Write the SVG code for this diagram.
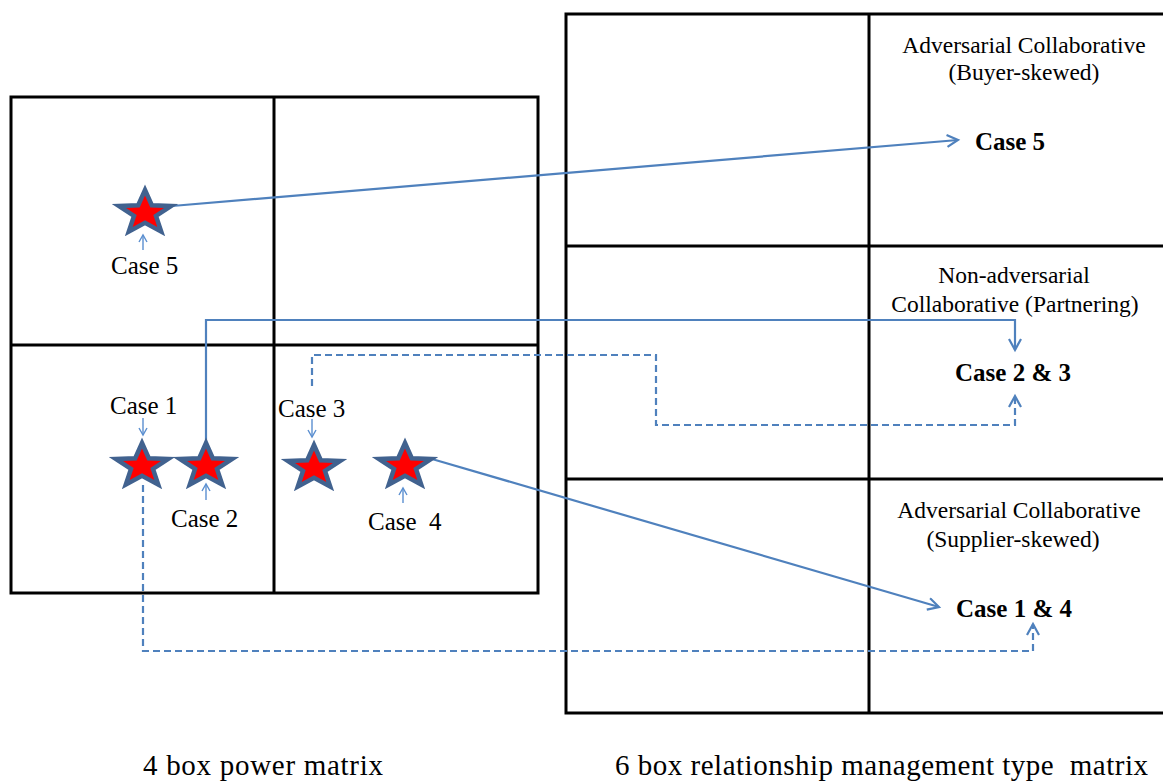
<svg xmlns="http://www.w3.org/2000/svg" xmlns:xlink="http://www.w3.org/1999/xlink" width="1163" height="781" viewBox="0 0 1163 781">
  <style>
    .grid { fill: none; stroke: #000; stroke-width: 3; }
    .star { fill: #ff0000; stroke: #41628f; stroke-width: 4.5; stroke-linejoin: miter; }
    .link { fill: none; stroke: #4f81bd; stroke-width: 2.2; }
    .dash { stroke-dasharray: 7 4; }
    .tick { fill: none; stroke: #5b8fd0; stroke-width: 1.4; }
    .lbl { font-family: "Liberation Serif", "Times New Roman", serif; font-size: 25px; fill: #000; }
    .cat { font-family: "Liberation Serif", "Times New Roman", serif; font-size: 23.5px; fill: #000; text-anchor: middle; }
    .case { font-family: "Liberation Serif", "Times New Roman", serif; font-size: 25px; font-weight: bold; fill: #000; text-anchor: middle; }
    .cap { font-family: "Liberation Serif", "Times New Roman", serif; font-size: 29px; fill: #000; }
  </style>
  <defs>
    <polygon id="star5" points="0,-23 6.8,-7.8 26.2,-7.1 11,3 16.2,18.6 0,9.7 -16.2,18.6 -11,3 -26.2,-7.1 -6.8,-7.8"/>
    <marker id="arr" markerUnits="userSpaceOnUse" markerWidth="16" markerHeight="16" refX="12" refY="7" orient="auto">
      <path d="M1,1 L12,7 L1,13" fill="none" stroke="#4f81bd" stroke-width="2.2"/>
    </marker>
    <marker id="tickArr" markerUnits="userSpaceOnUse" markerWidth="12" markerHeight="12" refX="8" refY="5" orient="auto">
      <path d="M1,1 L8,5 L1,9" fill="none" stroke="#5b8fd0" stroke-width="1.4"/>
    </marker>
  </defs>

  <!-- 4 box power matrix -->
  <g id="power-matrix">
    <rect class="grid" x="11" y="97" width="527" height="496"/>
    <line class="grid" x1="274" y1="97" x2="274" y2="593"/>
    <line class="grid" x1="11" y1="345" x2="538" y2="345"/>
  </g>

  <!-- 6 box relationship management type matrix -->
  <g id="relationship-matrix">
    <polyline class="grid" points="1170,14 566,14 566,713 1170,713"/>
    <line class="grid" x1="869" y1="14" x2="869" y2="713"/>
    <line class="grid" x1="566" y1="246" x2="1170" y2="246"/>
    <line class="grid" x1="566" y1="479" x2="1170" y2="479"/>
  </g>

  <!-- connectors -->
  <g id="connectors">
    <line class="link" x1="172" y1="206" x2="958" y2="140" marker-end="url(#arr)"/>
    <polyline class="link" points="206,443 206,320 1015,320 1015,350" marker-end="url(#arr)"/>
    <polyline class="link dash" points="312,386 312,355 656,355 656,425 1015,425 1015,396" marker-end="url(#arr)"/>
    <line class="link" x1="432" y1="459" x2="939" y2="607" marker-end="url(#arr)"/>
    <polyline class="link dash" points="143,485 143,651 1033,651 1033,624" marker-end="url(#arr)"/>
  </g>

  <!-- cases in the power matrix -->
  <g id="case5">
    <use xlink:href="#star5" class="star" x="145" y="213"/>
    <line class="tick" x1="143" y1="250" x2="143" y2="235" marker-end="url(#tickArr)"/>
    <text class="lbl" x="111" y="274">Case 5</text>
  </g>
  <g id="case1">
    <use xlink:href="#star5" class="star" x="142" y="466"/>
    <line class="tick" x1="143" y1="418" x2="143" y2="435" marker-end="url(#tickArr)"/>
    <text class="lbl" x="110" y="414">Case 1</text>
  </g>
  <g id="case2">
    <use xlink:href="#star5" class="star" x="206" y="466"/>
    <line class="tick" x1="206" y1="500" x2="206" y2="484" marker-end="url(#tickArr)"/>
    <text class="lbl" x="171" y="527">Case 2</text>
  </g>
  <g id="case3">
    <use xlink:href="#star5" class="star" x="314" y="468"/>
    <line class="tick" x1="312" y1="419" x2="312" y2="437" marker-end="url(#tickArr)"/>
    <text class="lbl" x="278" y="417">Case 3</text>
  </g>
  <g id="case4">
    <use xlink:href="#star5" class="star" x="405" y="466"/>
    <line class="tick" x1="403" y1="503" x2="403" y2="488" marker-end="url(#tickArr)"/>
    <text class="lbl" x="368" y="530" xml:space="preserve">Case  4</text>
  </g>

  <!-- relationship types -->
  <g id="buyer-skewed">
    <text class="cat" x="1024" y="53">Adversarial Collaborative</text>
    <text class="cat" x="1024" y="80">(Buyer-skewed)</text>
    <text class="case" x="1010" y="150">Case 5</text>
  </g>
  <g id="partnering">
    <text class="cat" x="1014" y="283">Non-adversarial</text>
    <text class="cat" x="1015" y="312">Collaborative (Partnering)</text>
    <text class="case" x="1013" y="381">Case 2 &amp; 3</text>
  </g>
  <g id="supplier-skewed">
    <text class="cat" x="1019" y="518">Adversarial Collaborative</text>
    <text class="cat" x="1013" y="547">(Supplier-skewed)</text>
    <text class="case" x="1014" y="617">Case 1 &amp; 4</text>
  </g>

  <!-- captions -->
  <g id="captions">
    <text class="cap" x="143" y="775" textLength="240">4 box power matrix</text>
    <text class="cap" x="615" y="775" textLength="533" xml:space="preserve">6 box relationship management type  matrix</text>
  </g>
</svg>
